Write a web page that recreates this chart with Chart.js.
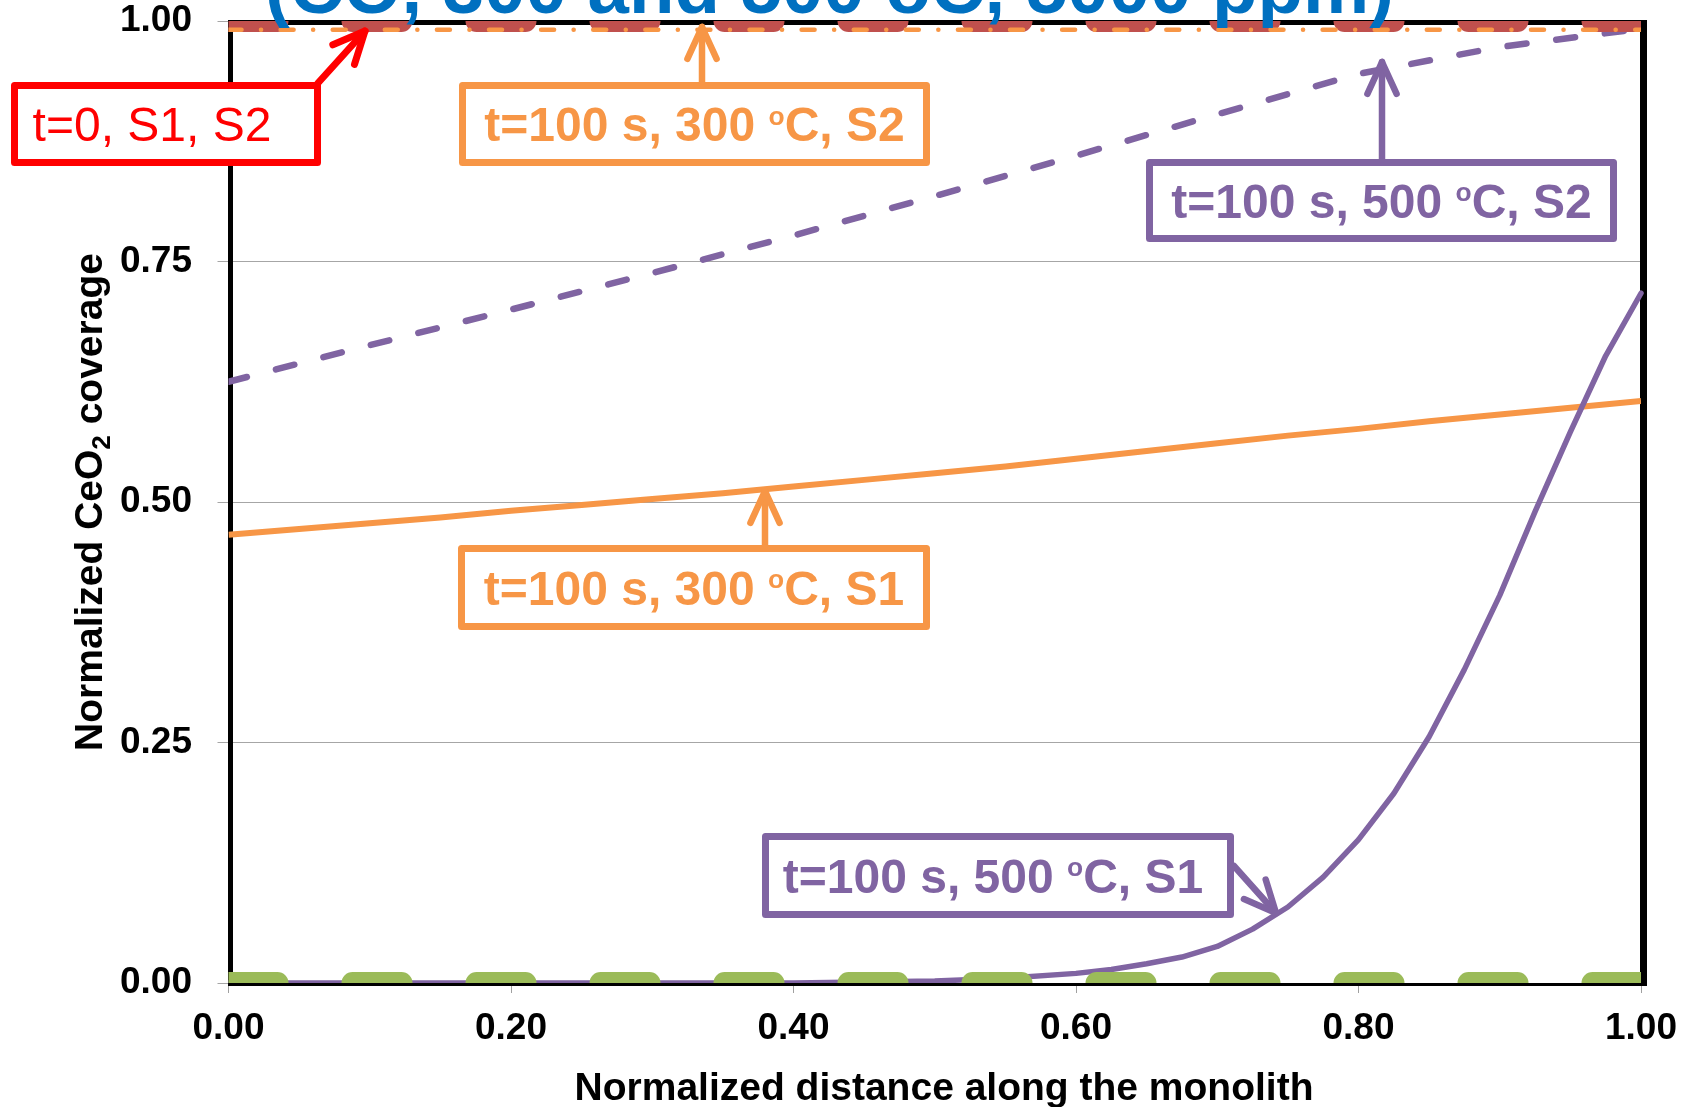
<!DOCTYPE html>
<html>
<head>
<meta charset="utf-8">
<script src="https://cdn.jsdelivr.net/npm/chart.js@4.4.1/dist/chart.umd.min.js"></script>
<style>
html,body{margin:0;padding:0;background:#fff;overflow:hidden}
#wrap{width:1694px;height:1107px;position:relative}
</style>
</head>
<body>
<div id="wrap"><canvas id="c" width="1694" height="1107"></canvas></div>
<script>
// ---------------- DATA ----------------
const chartTitle = '(CO, 300 and 500 oC, 5000 ppm)';
const xAxisTitle = 'Normalized distance along the monolith';
const yAxisTitleParts = ['Normalized CeO', '2', ' coverage'];
const xTickLabels = ['0.00', '0.20', '0.40', '0.60', '0.80', '1.00'];
const yTickLabels = ['0.00', '0.25', '0.50', '0.75', '1.00'];

const seriesNames = [
  't=0, S1, S2',
  'Fully reduced reference',
  't=100 s, 300 °C, S2',
  't=100 s, 300 °C, S1',
  't=100 s, 500 °C, S2',
  't=100 s, 500 °C, S1'
];

const xT0 = [0, 1];
const yT0 = [1, 1];

const xBase = [0, 1];
const yBase = [0, 0];

const x300S2 = [0, 1];
const y300S2 = [0.991, 0.991];

const x300S1 = [0, 0.05, 0.1, 0.15, 0.2, 0.25, 0.3, 0.35, 0.4, 0.45, 0.5, 0.55, 0.6, 0.65, 0.7, 0.75, 0.8, 0.85, 0.9, 0.95, 1.0];
const y300S1 = [0.466, 0.472, 0.478, 0.484, 0.491, 0.497, 0.503, 0.509, 0.516, 0.523, 0.530, 0.537, 0.545, 0.553, 0.561, 0.569, 0.576, 0.584, 0.591, 0.598, 0.605];

const x500S2 = [0, 0.1, 0.2, 0.3, 0.4, 0.5, 0.6, 0.7, 0.8, 0.9, 1.0];
const y500S2 = [0.625, 0.663, 0.700, 0.738, 0.777, 0.818, 0.860, 0.903, 0.945, 0.973, 0.992];

const x500S1 = [0, 0.1, 0.2, 0.3, 0.4, 0.45, 0.5, 0.55, 0.6, 0.625, 0.65, 0.675, 0.7, 0.725, 0.75, 0.775, 0.8, 0.825, 0.85, 0.875, 0.9, 0.925, 0.95, 0.975, 1.0];
const y500S1 = [0, 0, 0, 0, 0, 0.001, 0.002, 0.005, 0.010, 0.014, 0.020, 0.027, 0.038, 0.056, 0.079, 0.110, 0.149, 0.197, 0.256, 0.326, 0.403, 0.490, 0.573, 0.652, 0.717];

// Annotation label texts ('°' is drawn as a superscript o)
const annotationTexts = [
  't=0, S1, S2',
  't=100 s, 300 °C, S2',
  't=100 s, 500 °C, S2',
  't=100 s, 300 °C, S1',
  't=100 s, 500 °C, S1'
];

// ---------------- STYLE ----------------
const FONT = '"Liberation Sans", Arial, Helvetica, sans-serif';
const C_RED = '#FF0000', C_DRED = '#C0504D', C_GREEN = '#9BBB59', C_ORANGE = '#F79646', C_PURPLE = '#8064A2', C_BLUE = '#0070C0';

function pts(xs, ys) { return xs.map((x, i) => ({x: x, y: ys[i]})); }

const datasets = [
  {label: seriesNames[1], data: pts(xBase, yBase), borderColor: C_GREEN, borderWidth: 22, borderDash: [49, 75], borderCapStyle: 'round', clip: 0, order: 0},
  {label: seriesNames[2], data: pts(x300S2, y300S2), borderColor: C_ORANGE, borderWidth: 4.5, borderDash: [13, 19.5, 0.1, 19.5], borderCapStyle: 'round', order: 1},
  {label: seriesNames[0], data: pts(xT0, yT0), borderColor: C_DRED, borderWidth: 22, borderDash: [49, 75], borderCapStyle: 'round', clip: 0, order: 2},
  {label: seriesNames[5], data: pts(x500S1, y500S1), borderColor: C_PURPLE, borderWidth: 5.5, borderCapStyle: 'round', borderJoinStyle: 'round', clip: {left: 0, top: 0, right: 5, bottom: 0}, order: 3},
  {label: seriesNames[3], data: pts(x300S1, y300S1), borderColor: C_ORANGE, borderWidth: 6, order: 4},
  {label: seriesNames[4], data: pts(x500S2, y500S2), borderColor: C_PURPLE, borderWidth: 6.5, borderDash: [19, 30], borderCapStyle: 'round', order: 5}
];
datasets.forEach(d => { d.pointRadius = 0; d.fill = false; d.tension = 0; });

// ---------------- DECORATION PLUGIN ----------------
function drawRich(ctx, text, cx, baseY, fs, bold, color) {
  const w = bold ? 'bold ' : '';
  const parts = [];
  const segs = text.split('°');
  segs.forEach((s, i) => {
    if (i > 0) parts.push({t: 'o', sup: true});
    if (s) parts.push({t: s, sup: false});
  });
  const supFs = fs * 0.55;
  let total = 0;
  parts.forEach(p => {
    ctx.font = w + (p.sup ? supFs : fs) + 'px ' + FONT;
    p.w = ctx.measureText(p.t).width;
    total += p.w;
  });
  let x = cx - total / 2;
  ctx.fillStyle = color;
  ctx.textAlign = 'left';
  ctx.textBaseline = 'alphabetic';
  parts.forEach(p => {
    ctx.font = w + (p.sup ? supFs : fs) + 'px ' + FONT;
    ctx.fillText(p.t, x, p.sup ? baseY - fs * 0.34 : baseY);
    x += p.w;
  });
}

function drawArrow(ctx, x1, y1, x2, y2, color, lw) {
  ctx.strokeStyle = color;
  ctx.lineWidth = lw;
  ctx.lineCap = 'round';
  ctx.lineJoin = 'round';
  ctx.beginPath(); ctx.moveTo(x1, y1); ctx.lineTo(x2, y2); ctx.stroke();
  const ang = Math.atan2(y2 - y1, x2 - x1), L = 35, h = 0.43;
  ctx.beginPath();
  ctx.moveTo(x2 - L * Math.cos(ang - h), y2 - L * Math.sin(ang - h));
  ctx.lineTo(x2, y2);
  ctx.lineTo(x2 - L * Math.cos(ang + h), y2 - L * Math.sin(ang + h));
  ctx.stroke();
}

const annotations = [
  {i: 0, color: C_RED, bold: false, fs: 48, box: [11, 82, 321, 166], textCx: 152, arrow: [318, 83, 365, 31], lw: 7},
  {i: 1, color: C_ORANGE, bold: true, fs: 48, box: [459, 82, 930, 166], arrow: [702, 82, 702, 27], lw: 6.5},
  {i: 2, color: C_PURPLE, bold: true, fs: 48, box: [1146, 159, 1617, 242], arrow: [1382, 159, 1382, 62], lw: 6.5},
  {i: 3, color: C_ORANGE, bold: true, fs: 48, box: [458, 545, 930, 630], arrow: [765, 545, 765, 491], lw: 6.5},
  {i: 4, color: C_PURPLE, bold: true, fs: 48, box: [762, 833, 1234, 918], textCx: 993, arrow: [1234, 866, 1276, 913], lw: 6.5}
];

const deco = {
  id: 'deco',
  beforeDatasetsDraw(chart) {
    const {ctx, chartArea: a} = chart;
    ctx.save();
    ctx.fillStyle = '#000';
    ctx.fillRect(a.left - 0.5, a.top - 1, 5, a.bottom - a.top + 4);
    ctx.fillRect(a.right - 1, a.top - 1, 7, a.bottom - a.top + 4);
    ctx.fillRect(a.left, a.top - 1, a.right - a.left + 5, 5);
    ctx.fillRect(a.left, a.bottom, a.right - a.left + 5, 3);
    ctx.restore();
  },
  afterDraw(chart) {
    const {ctx, chartArea: a} = chart;
    ctx.save();
    // chart title (cut off by the top edge)
    ctx.font = 'bold 100px ' + FONT;
    const tw = ctx.measureText(chartTitle).width;
    const tfs = 100 * 1129 / tw;
    ctx.font = 'bold ' + tfs + 'px ' + FONT;
    ctx.fillStyle = C_BLUE;
    ctx.textAlign = 'center';
    ctx.textBaseline = 'alphabetic';
    ctx.fillText(chartTitle, 829.5, 13);

    // x axis title
    ctx.font = 'bold 39px ' + FONT;
    ctx.fillStyle = '#000';
    ctx.fillText(xAxisTitle, 944, 1100);

    // y axis title with subscript
    ctx.save();
    ctx.translate(102, (a.top + a.bottom) / 2);
    ctx.rotate(-Math.PI / 2);
    const fsY = 39, fsSub = 26;
    ctx.font = 'bold ' + fsY + 'px ' + FONT;
    const w0 = ctx.measureText(yAxisTitleParts[0]).width;
    const w2 = ctx.measureText(yAxisTitleParts[2]).width;
    ctx.font = 'bold ' + fsSub + 'px ' + FONT;
    const w1 = ctx.measureText(yAxisTitleParts[1]).width;
    let x = -(w0 + w1 + w2) / 2;
    ctx.textAlign = 'left';
    ctx.font = 'bold ' + fsY + 'px ' + FONT;
    ctx.fillText(yAxisTitleParts[0], x, 0); x += w0;
    ctx.font = 'bold ' + fsSub + 'px ' + FONT;
    ctx.fillText(yAxisTitleParts[1], x, 8); x += w1;
    ctx.font = 'bold ' + fsY + 'px ' + FONT;
    ctx.fillText(yAxisTitleParts[2], x, 0);
    ctx.restore();

    // annotation boxes and arrows
    annotations.forEach(an => {
      const [x1, y1, x2, y2] = an.box;
      ctx.fillStyle = '#fff';
      ctx.fillRect(x1 + 3.5, y1 + 3.5, x2 - x1 - 7, y2 - y1 - 7);
      ctx.strokeStyle = an.color;
      ctx.lineWidth = 7;
      ctx.lineJoin = 'round';
      ctx.strokeRect(x1 + 3.5, y1 + 3.5, x2 - x1 - 7, y2 - y1 - 7);
      const cx = an.textCx !== undefined ? an.textCx : (x1 + x2) / 2;
      drawRich(ctx, annotationTexts[an.i], cx, (y1 + y2) / 2 + an.fs * 0.358, an.fs, an.bold, an.color);
      drawArrow(ctx, an.arrow[0], an.arrow[1], an.arrow[2], an.arrow[3], an.color, an.lw);
    });
    ctx.restore();
  }
};

// ---------------- CHART ----------------
const PLOT_LEFT = 228.5, PLOT_RIGHT = 1641, PLOT_TOP = 21, PLOT_BOTTOM = 983;

new Chart(document.getElementById('c'), {
  type: 'line',
  data: {datasets: datasets},
  plugins: [deco],
  options: {
    responsive: false,
    animation: false,
    devicePixelRatio: 1,
    layout: {padding: {left: 0, right: 1694 - PLOT_RIGHT, top: PLOT_TOP, bottom: 0}},
    plugins: {legend: {display: false}, tooltip: {enabled: false}, title: {display: false}},
    scales: {
      x: {
        type: 'linear', min: 0, max: 1,
        afterFit(s) { s.height = 1107 - PLOT_BOTTOM; s.paddingLeft = 0; s.paddingRight = 0; },
        grid: {display: true, drawOnChartArea: false, drawTicks: true, tickLength: 10, color: '#A0A0A0', lineWidth: 1},
        border: {display: true, color: '#A0A0A0', width: 1},
        ticks: {stepSize: 0.2, padding: 15, color: '#000', maxRotation: 0, autoSkip: false,
          font: {family: FONT, size: 37, weight: 'bold', lineHeight: 1.1},
          callback: (v, i) => xTickLabels[i]}
      },
      y: {
        type: 'linear', min: 0, max: 1,
        afterFit(s) { s.width = PLOT_LEFT; s.paddingTop = 0; s.paddingBottom = 0; },
        grid: {display: true, drawOnChartArea: true, drawTicks: true, tickLength: 11, color: '#A6A6A6', lineWidth: 1},
        border: {display: true, color: '#A0A0A0', width: 1},
        ticks: {stepSize: 0.25, padding: 25.5, color: '#000',
          font: {family: FONT, size: 37, weight: 'bold', lineHeight: 1.1},
          callback: (v, i) => yTickLabels[i]}
      }
    }
  }
});
</script>
</body>
</html>
